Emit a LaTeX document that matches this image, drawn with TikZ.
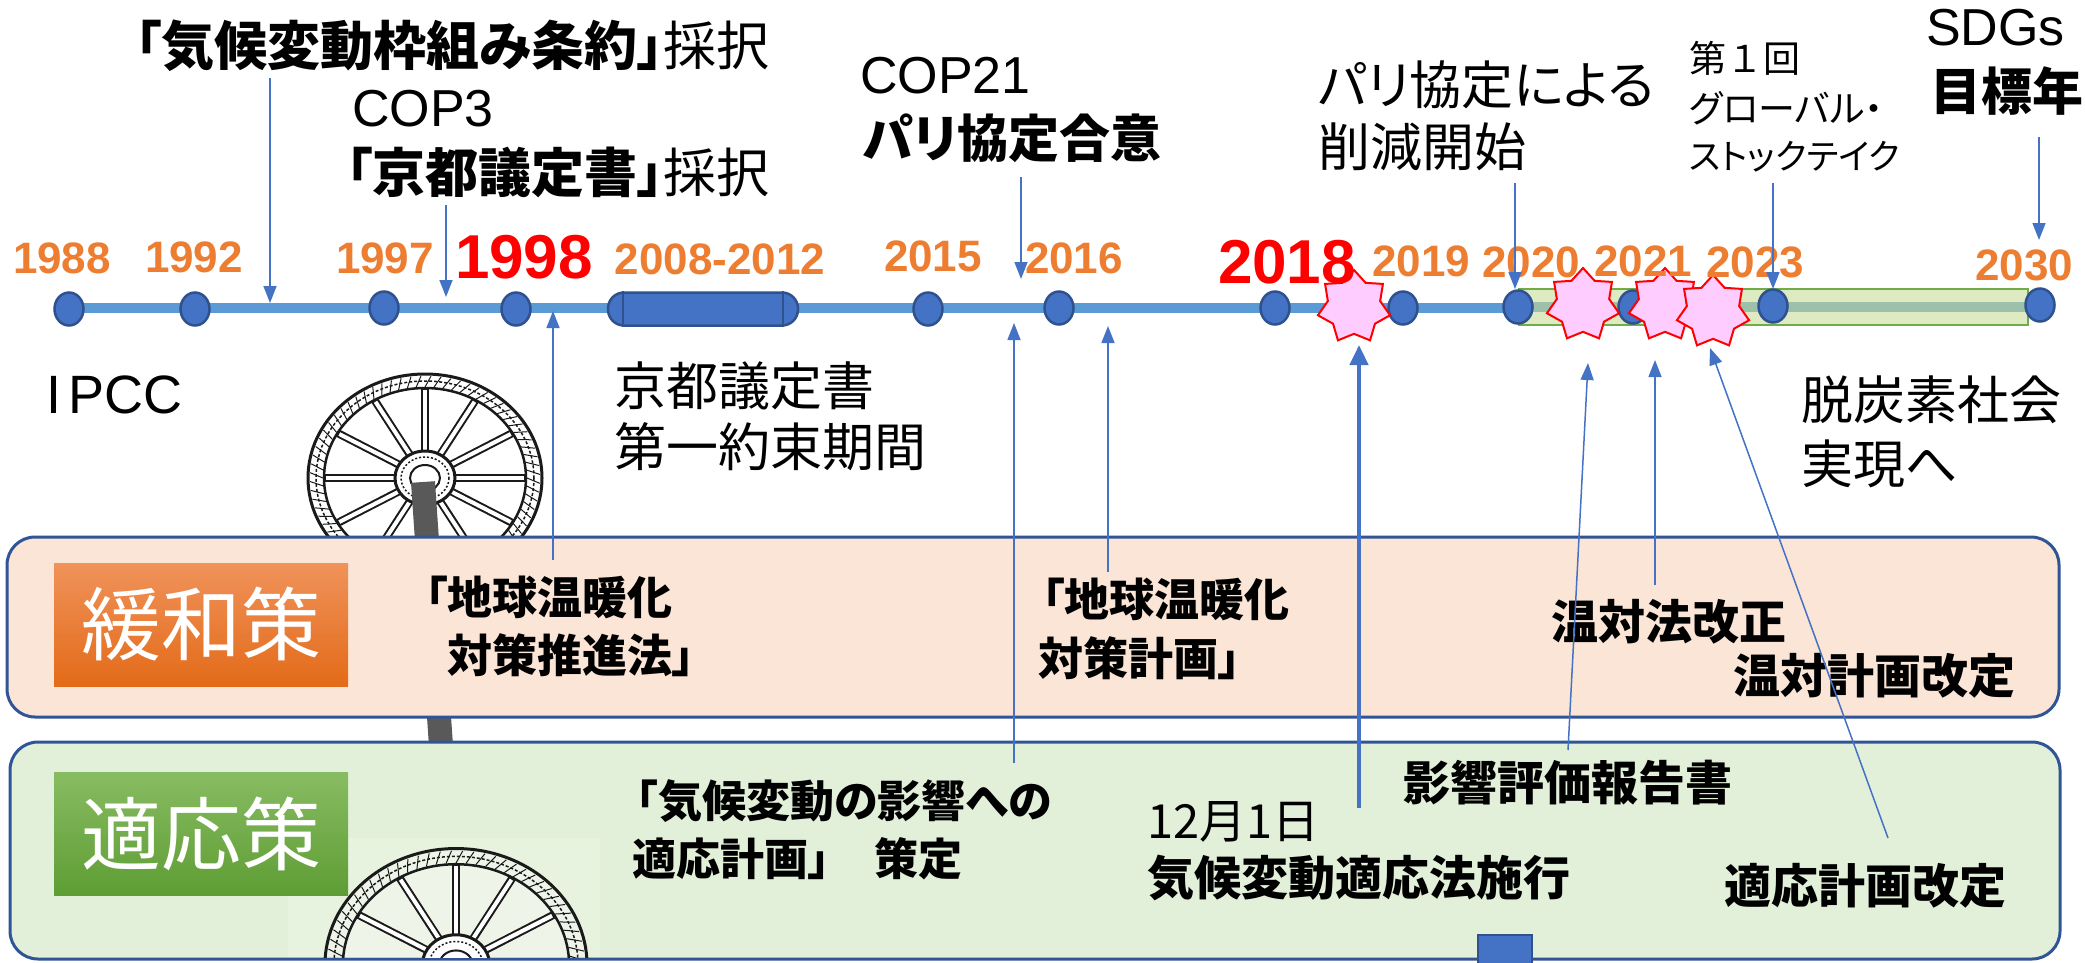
\documentclass[tikz,border=0pt]{standalone}
\usepackage{fontspec}
\setmainfont{Liberation Sans}
\newfontfamily\jp{Noto Sans CJK JP}[RawFeature=+palt]
\newfontfamily\jpfull{Noto Sans CJK JP}
\usetikzlibrary{arrows.meta,shapes.geometric}

\definecolor{yearorange}{HTML}{ED7D31}
\definecolor{tlblue}{HTML}{5B9BD5}
\definecolor{dotblue}{HTML}{4472C4}
\definecolor{dotedge}{HTML}{2F528F}
\definecolor{arrowblue}{HTML}{4472C4}
\definecolor{bandfill}{HTML}{DDEAC2}
\definecolor{bandedge}{HTML}{70AD47}
\definecolor{bandline}{HTML}{9CC0AA}
\definecolor{starpink}{HTML}{FFCCFF}
\definecolor{mitfill}{HTML}{FBE5D6}
\definecolor{adpfill}{HTML}{E2F0D9}
\definecolor{paneledge}{HTML}{2F5597}
\definecolor{axlegray}{HTML}{595959}
\definecolor{mittop}{HTML}{F0925A}
\definecolor{mitbot}{HTML}{E36B19}
\definecolor{adptop}{HTML}{88BC62}
\definecolor{adpbot}{HTML}{5E9D34}
\definecolor{wheelink}{HTML}{1A1A1A}

\newcommand\fsz[1]{\fontsize{#1}{#1}\selectfont}

\tikzset{
  yr/.style={font=\bfseries\fsz{44}, text=yearorange, inner sep=0},
  yrred/.style={font=\bfseries\fsz{62}, text=red, inner sep=0},
  dot/.style={ellipse, minimum width=29pt, minimum height=33pt, inner sep=0,
    fill=dotblue, draw=dotedge, line width=2.5pt},
  burst/.style={star, star points=7, star point ratio=1.38, minimum size=74pt,
    inner sep=0, fill=starpink, draw=red, line width=2pt},
  lat/.style={inner sep=0, anchor=west, font=\fsz{#1}},
  jpt/.style={inner sep=0, anchor=west, font=\jp\fsz{#1}},
  jpb/.style={inner sep=0, anchor=west, font=\jp\bfseries\fsz{#1}},
  arr/.style={draw=arrowblue, line width=1.5pt, -{Triangle[length=17pt,width=13pt]}},
  arrthick/.style={draw=arrowblue, line width=4.5pt, -{Triangle[length=20pt,width=18pt]}},
  panel/.style={draw=paneledge, line width=3pt, rounded corners=28pt, inner sep=0},
  tag/.style={inner sep=0, minimum width=294pt, minimum height=123pt,
    text=white, font=\jp\fsz{80}},
  axle/.style={draw=axlegray, line width=24pt},
  wheelbg/.style={},
  wheel/.pic={
    \fill[white, wheelbg] (0,0) ellipse [x radius=117, y radius=104];
    \begin{scope}[wheelink]
    \draw[line width=3pt] (0,0) ellipse [x radius=117, y radius=104];
    \foreach \a in {0,5,...,355}
      \draw[line width=1pt] (\a:102 and 91) -- (\a+3:115 and 102);
    \draw[line width=1.5pt, dash pattern=on 3pt off 2pt] (0,0) ellipse [x radius=109, y radius=97];
    \draw[line width=2.5pt] (0,0) ellipse [x radius=101, y radius=90];
    \foreach \a in {0,30,...,330} {
      \draw[line width=8pt] (\a:26 and 23) -- (\a:101 and 90);
      \draw[white, line width=4pt] (\a:29 and 26) -- (\a:99 and 88);
    }
    \draw[line width=3pt, fill=white] (0,0) ellipse [x radius=30, y radius=27];
    \draw[line width=1.5pt, dash pattern=on 2pt off 2pt] (0,0) ellipse [x radius=24, y radius=21];
    \draw[line width=2pt] (0,0) ellipse [x radius=15, y radius=13];
    \end{scope}
  }
}

\begin{document}
\begin{tikzpicture}[x=1pt, y=-1pt]
\useasboundingbox (0,0) rectangle (2085,962);
\fill[white] (0,0) rectangle (2085,962);

% wagon wheel and axle behind the mitigation panel
\pic at (425,478) {wheel};
\coordinate (axtop) at (423,482);
\coordinate (axbot) at (441,746);
\draw[axle] (axtop) -- (axbot);

% panels
\node[panel, fill=mitfill, minimum width=2052pt, minimum height=180pt] (mitpanel) at (1033,627) {};
\node[panel, fill=adpfill, minimum width=2050pt, minimum height=217pt] (adppanel) at (1035,850.5) {};

% second wheel inside the adaptation panel
\begin{scope}
  \clip (0,0) rectangle (2085,957);
  \fill[white, opacity=0.18] (288,838) rectangle (600,957);
  \pic[scale=1.12, wheelbg/.style={fill opacity=0.3}] at (456,965) {wheel};
\end{scope}
\node[fill=dotblue, draw=dotedge, line width=2pt, minimum width=54pt, minimum height=32pt,
  inner sep=0, anchor=north west] (sq) at (1477,934) {};

% panel tags
\node[tag, top color=mittop, bottom color=mitbot] (mittag) at (201,624.5) {緩和策};
\node[tag, top color=adptop, bottom color=adpbot] (adptag) at (201,833.5) {適応策};

% timeline
\coordinate (tl0) at (69,308);
\coordinate (tl1) at (1519,308);
\draw[tlblue, line width=10pt] (tl0) -- (tl1);
\node[draw=bandedge, fill=bandfill, line width=2pt, inner sep=0,
  minimum width=509pt, minimum height=36pt] (band) at (1773.5,306.5) {};
\draw[bandline, line width=10pt] (band.west) -- (band.east);

\node[dot] (d1988) at (69,309) {};
\node[dot] (d1992) at (195,309) {};
\node[dot] (d1997) at (384,308) {};
\node[dot] (d1998) at (516,309) {};
\node[draw=dotedge, fill=dotblue, line width=2.5pt, rounded corners=16pt, inner sep=0,
  minimum width=190pt, minimum height=33pt] (d2008) at (703,309) {};
\draw[dotedge, line width=2pt] ([xshift=16pt]d2008.north west) -- ([xshift=16pt]d2008.south west);
\draw[dotedge, line width=2pt] ([xshift=-16pt]d2008.north east) -- ([xshift=-16pt]d2008.south east);
\node[dot] (d2015) at (928,309) {};
\node[dot] (d2016) at (1059,308) {};
\node[dot] (d2018) at (1275,308) {};
\node[dot] (d2019) at (1403,308) {};
\node[dot] (d2020) at (1518,307) {};
\node[dot] (d2021) at (1633,307) {};
\node[dot] (d2023) at (1773,306) {};
\node[dot] (d2030) at (2040,305) {};

% event bursts
\node[burst] (s2018) at (1354,307) {};
\node[burst] (s2020) at (1583,305) {};
\node[burst] (s2021) at (1665,305) {};
\node[burst] (s2022) at (1713,312) {};

% year labels
\node[yr] (l1988) at (62,258) {1988};
\node[yr] (l1992) at (194,257) {1992};
\node[yr] (l1997) at (385,258) {1997};
\node[yrred] (l1998) at (524,257) {1998};
\node[yr] (l2008) at (720,259) {2008-2012};
\node[yr] (l2015) at (933,256) {2015};
\node[yr] (l2016) at (1074,258) {2016};
\node[yrred] (l2018) at (1287,262) {2018};
\node[yr] (l2019) at (1421,261) {2019};
\node[yr] (l2020) at (1531,262) {2020};
\node[yr] (l2021) at (1643,261) {2021};
\node[yr] (l2023) at (1755,262) {2023};
\node[yr] (l2030) at (2024,265) {2030};

% texts above the timeline
\node[jpt=53, anchor=east] (tunfccc) at (770,46) {\textbf{「気候変動枠組み条約」}採択};
\node[lat=52] (tcop3) at (352,109) {COP3};
\node[jpt=53, anchor=east] (tkyoto) at (770,172) {\textbf{「京都議定書」}採択};
\node[lat=52] (tcop21) at (860,76) {COP21};
\node[jpb=51] (tparis) at (863,138) {パリ協定合意};
\node[jpt=52] (tcutA) at (1318,85) {パリ協定による};
\node[jpt=52] (tcutB) at (1318,147) {削減開始};
\node[inner sep=0, anchor=west, font=\jpfull\fsz{37}] (tgstA) at (1689,58) {第１回};
\node[jpt=37] (tgstB) at (1689,108) {グローバル・};
\node[jpt=35] (tgstC) at (1689,157) {ストックテイク};
\node[lat=52] (tsdgA) at (1926,28) {SDGs};
\node[jpb=51] (tsdgB) at (1930,91) {目標年};

% texts below the timeline
\node[lat=54] (tipcc) at (46,395) {I\kern7pt PCC};
\node[jpt=52] (tkpA) at (614,386) {京都議定書};
\node[jpt=52] (tkpB) at (614,447) {第一約束期間};
\node[jpt=52] (tdcA) at (1801,400) {脱炭素社会};
\node[jpt=52] (tdcB) at (1801,464) {実現へ};

% mitigation panel texts
\node[jpb=45] (tlawA) at (425,597) {「地球温暖化};
\node[jpb=45] (tlawB) at (447,655) {対策推進法」};
\node[jpb=45] (tplanA) at (1042,599) {「地球温暖化};
\node[jpb=45] (tplanB) at (1038,658) {対策計画」};
\node[jpb=47] (trevA) at (1551,622) {温対法改正};
\node[jpb=47] (trevB) at (1733,676) {温対計画改定};

% adaptation panel texts
\node[jpb=47] (timpact) at (1403,783) {影響評価報告書};
\node[jpb=44] (tadplA) at (636,801) {「気候変動の影響への};
\node[jpb=44] (tadplB) at (632,859) {適応計画」　策定};
\node[jpt=47] (tactA) at (1147,822) {12月1日};
\node[jpb=47] (tactB) at (1147,878) {気候変動適応法施行};
\node[jpb=47] (tadrev) at (1724,886) {適応計画改定};

% arrows from the upper texts
\coordinate (aUs) at (270,78);   \coordinate (aUe) at (270,303);
\coordinate (aKs) at (446,205);  \coordinate (aKe) at (446,297);
\coordinate (aPs) at (1021,177); \coordinate (aPe) at (1021,279);
\coordinate (aCs) at (1515,183); \coordinate (aCe) at (1515,289);
\coordinate (aGs) at (1773,183); \coordinate (aGe) at (1773,289);
\coordinate (aSs) at (2039,137); \coordinate (aSe) at (2039,240);
\draw[arr] (aUs) -- (aUe);
\draw[arr] (aKs) -- (aKe);
\draw[arr] (aPs) -- (aPe);
\draw[arr] (aCs) -- (aCe);
\draw[arr] (aGs) -- (aGe);
\draw[arr] (aSs) -- (aSe);

% arrows from the panels
\coordinate (bLs) at (553,560);   \coordinate (bLe) at (553,311);
\coordinate (bAs) at (1014,763);  \coordinate (bAe) at (1014,323);
\coordinate (bPs) at (1108,572);  \coordinate (bPe) at (1108,326);
\coordinate (bIs) at (1568,750);  \coordinate (bIe) at (1588,363);
\coordinate (bRs) at (1655,585);  \coordinate (bRe) at (1655,360);
\coordinate (bDs) at (1888,838);  \coordinate (bDe) at (1710,348);
\coordinate (bTs) at (1359,808);  \coordinate (bTe) at (1359,345);
\draw[arr] (bLs) -- (bLe);
\draw[arr] (bAs) -- (bAe);
\draw[arr] (bPs) -- (bPe);
\draw[arr] (bIs) -- (bIe);
\draw[arr] (bRs) -- (bRe);
\draw[arr] (bDs) -- (bDe);
\draw[arrthick] (bTs) -- (bTe);
\end{tikzpicture}
\end{document}
